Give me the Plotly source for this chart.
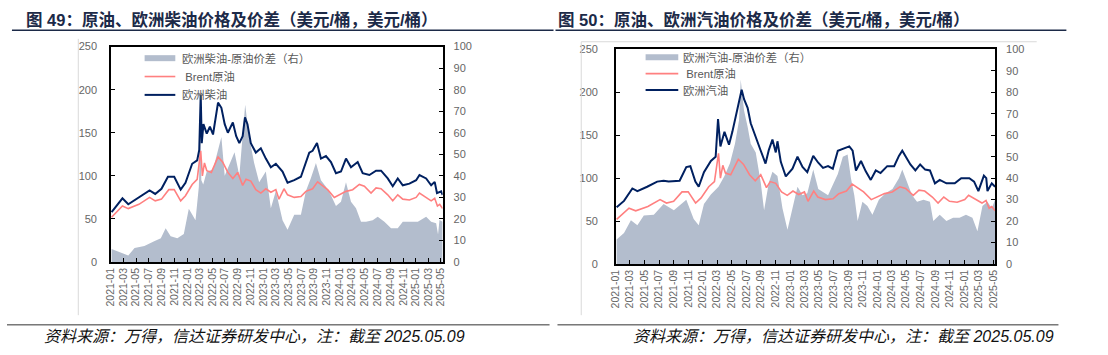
import plotly.graph_objects as go

W, H = 1108, 355

# ---------------- data ----------------
diesel_dates = ["2021-01-04","2021-02-25","2021-03-25","2021-05-15","2021-07-05","2021-08-01","2021-08-31",
    "2021-10-01","2021-10-31","2021-12-01","2021-12-24","2022-01-25","2022-02-18","2022-02-28","2022-03-07",
    "2022-03-12","2022-03-20","2022-04-05","2022-04-20","2022-05-05","2022-05-29","2022-06-14","2022-06-30",
    "2022-07-15","2022-08-08","2022-08-24","2022-09-08","2022-09-24","2022-10-05","2022-10-17","2022-11-02",
    "2022-11-26","2022-12-20","2023-01-13","2023-02-06","2023-03-02","2023-04-03","2023-04-27","2023-05-29",
    "2023-06-30","2023-07-24","2023-08-09","2023-08-25","2023-09-15","2023-10-04","2023-10-28","2023-11-21",
    "2023-12-15","2024-01-08","2024-02-01","2024-02-25","2024-03-28","2024-04-21","2024-05-23","2024-06-24",
    "2024-07-18","2024-08-19","2024-09-12","2024-10-06","2024-10-30","2024-12-01","2025-01-02","2025-01-18",
    "2025-02-19","2025-03-15","2025-04-01","2025-04-12","2025-05-02","2025-05-09"]
diesel_price = [58,74,67,75,83,79,85,99,99,84,92,114,118,130,194,138,160,149,157,148,185,179,160,150,162,146,
    138,146,168,160,138,127,132,120,110,114,105,92,95,99,116,127,129,138,120,123,116,103,105,120,110,116,103,
    101,106,106,97,88,97,89,91,95,101,97,89,93,80,82,78]

brent_dates = ["2021-01-04","2021-02-25","2021-03-25","2021-05-15","2021-07-05","2021-08-01","2021-08-31",
    "2021-10-05","2021-10-31","2021-12-01","2021-12-24","2022-01-25","2022-02-18","2022-03-07","2022-03-15",
    "2022-03-25","2022-04-05","2022-04-27","2022-05-29","2022-06-20","2022-07-15","2022-08-08","2022-08-31",
    "2022-09-24","2022-10-10","2022-11-02","2022-11-26","2022-12-20","2023-01-13","2023-02-06","2023-03-02",
    "2023-03-17","2023-04-10","2023-04-27","2023-05-29","2023-06-30","2023-07-24","2023-08-25","2023-09-18",
    "2023-10-12","2023-11-05","2023-12-07","2023-12-31","2024-02-01","2024-03-04","2024-04-05","2024-04-29",
    "2024-05-31","2024-06-24","2024-07-18","2024-08-19","2024-09-12","2024-10-06","2024-10-30","2024-12-01",
    "2025-01-02","2025-01-18","2025-02-19","2025-03-15","2025-04-01","2025-04-14","2025-04-25","2025-05-09"]
brent_price = [52,65,62,67,75,71,73,84,84,71,77,90,96,129,100,115,106,104,122,116,104,97,104,89,96,94,84,80,
    85,81,84,73,85,78,75,76,82,85,93,88,84,75,78,82,84,90,88,80,86,85,78,71,78,73,72,75,80,75,71,74,65,67,62]

diesel_spread_dates = ["2021-01-04","2021-02-01","2021-03-03","2021-03-25","2021-04-24","2021-06-10","2021-07-27",
    "2021-08-28","2021-09-20","2021-10-14","2021-11-15","2021-12-16","2022-01-09","2022-01-25","2022-02-10",
    "2022-02-26","2022-03-05","2022-03-10","2022-03-19","2022-04-05","2022-05-05","2022-05-29","2022-06-14",
    "2022-06-30","2022-07-24","2022-08-16","2022-09-08","2022-10-06","2022-10-25","2022-11-18","2022-12-12",
    "2023-01-13","2023-02-06","2023-03-02","2023-04-03","2023-04-27","2023-05-29","2023-06-30","2023-07-24",
    "2023-08-17","2023-09-10","2023-10-04","2023-10-28","2023-11-21","2023-12-15","2024-01-08","2024-02-01",
    "2024-02-25","2024-03-20","2024-04-13","2024-05-07","2024-06-08","2024-07-02","2024-08-03","2024-09-04",
    "2024-10-06","2024-10-30","2024-12-01","2025-01-10","2025-02-19","2025-03-15","2025-04-08","2025-04-17",
    "2025-04-24","2025-05-09"]
diesel_spread = [6,5,3.7,3,6.5,7.5,9.7,11,15.7,12,11,13,24.7,22,19.4,35,60,38,36,42,43,52,58,40,46,51,40,73,58,
    46,37,42,25,33,19.4,15,22,22,33,39,46,38,35,31,26,28,37,28,25,18.7,18.7,19.4,21,18.7,15.7,15.7,18.7,18.7,
    18.7,21,18.7,18,12.8,19.5,18.7]

gasoline_dates = ["2021-01-04","2021-02-04","2021-03-11","2021-04-01","2021-05-12","2021-06-23","2021-07-20",
    "2021-08-10","2021-09-25","2021-10-23","2021-11-09","2021-11-30","2021-12-14","2022-01-05","2022-02-03",
    "2022-02-23","2022-03-05","2022-03-15","2022-04-01","2022-04-20","2022-05-04","2022-05-25","2022-06-12",
    "2022-06-22","2022-07-07","2022-07-20","2022-08-10","2022-08-31","2022-09-20","2022-10-04","2022-10-19",
    "2022-11-02","2022-11-09","2022-11-23","2022-12-14","2023-01-11","2023-02-01","2023-02-22","2023-03-14",
    "2023-04-08","2023-04-29","2023-05-19","2023-06-09","2023-06-29","2023-07-20","2023-08-17","2023-09-06",
    "2023-09-20","2023-10-04","2023-10-25","2023-11-14","2023-12-05","2023-12-26","2024-01-15","2024-02-12",
    "2024-03-12","2024-04-01","2024-04-15","2024-04-29","2024-05-19","2024-06-09","2024-06-29","2024-07-20",
    "2024-08-09","2024-08-30","2024-09-19","2024-10-17","2024-11-21","2024-12-18","2025-01-21","2025-02-10",
    "2025-02-28","2025-03-23","2025-04-02","2025-04-07","2025-04-25","2025-05-09"]
gasoline_price = [66,73.5,88,85,90,96,97,96,97,113,114,96,90,107,120,125,169,137,154,139,154,179,203,192,182,
    164,149,132,117,133,145,130,143,119,102,111,125,113,107,126,118,112,114,111,132,135,137,132,109,120,108,98,
    109,106,114,114,126,132,126,116,109,116,110,109,94,98,94,94,100,100,96,85,103,100,85,94,90]

gasoline_spread_dates = ["2021-01-04","2021-02-04","2021-03-05","2021-04-01","2021-04-28","2021-06-09","2021-07-20",
    "2021-09-01","2021-10-23","2021-11-23","2021-12-14","2022-01-05","2022-02-03","2022-03-01","2022-03-07",
    "2022-04-01","2022-04-24","2022-05-15","2022-06-01","2022-06-08","2022-06-22","2022-07-07","2022-07-20",
    "2022-08-10","2022-08-31","2022-09-14","2022-10-04","2022-10-19","2022-11-09","2022-11-30","2022-12-21",
    "2023-01-11","2023-02-01","2023-02-22","2023-03-14","2023-04-08","2023-04-29","2023-06-09","2023-07-20",
    "2023-08-10","2023-08-30","2023-09-13","2023-09-27","2023-10-11","2023-10-31","2023-11-21","2023-12-12",
    "2024-01-08","2024-02-05","2024-03-05","2024-04-01","2024-04-15","2024-05-06","2024-05-26","2024-06-16",
    "2024-07-13","2024-08-09","2024-08-23","2024-09-19","2024-10-17","2024-11-14","2024-12-11","2025-01-07",
    "2025-02-03","2025-02-24","2025-03-17","2025-04-07","2025-04-25","2025-05-09"]
gasoline_spread = [11.4,14.4,20.4,18,22.6,23,28,25,30,21,18,28,32.4,35,36,41,47,56,67,86,71.5,64,56,52,38,25,
    38,43,41,26,16,26,36,32,33,44,35,32,42,50,51,40,32,20,29,27,23,30,33,35,40,44,38,32,29,30,29,20,23,20,21.5,
    21.5,23,21.5,15.3,27,29,26,30]

x_ticks_fmt = "%Y-%m"
x_range = ["2021-01-01", "2025-05-09"]
left_range, right_range = [0, 250], [0, 100]

titles = ["图 49：原油、欧洲柴油价格及价差（美元/桶，美元/桶）",
          "图 50：原油、欧洲汽油价格及价差（美元/桶，美元/桶）"]
legend_names = [["欧洲柴油-原油价差（右）", " Brent原油", "欧洲柴油"],
                ["欧洲汽油-原油价差（右）", " Brent原油", "欧洲汽油"]]
footer = "资料来源：万得，信达证券研发中心，注：截至 2025.05.09"

# ---------------- styles ----------------
AREA = "#B3BDCD"
BRENT = "#FF8080"
PROD = "#002060"
TICKC = "#666666"
FONT = "Liberation Sans, Noto Sans CJK SC, sans-serif"

def px(x): return x / W
def py(y): return 1 - y / H

fig = go.Figure()

charts = [
    dict(xa="x", ya="y", ya2="y2", spread=(diesel_spread_dates, diesel_spread), prod=(diesel_dates, diesel_price),
         dom_x=[px(105), px(440)], dom_y=[py(265), py(42)], lstand=10),
    dict(xa="x2", ya="y3", ya2="y4", spread=(gasoline_spread_dates, gasoline_spread),
         prod=(gasoline_dates, gasoline_price), dom_x=[px(615), px(998)], dom_y=[py(267), py(45)], lstand=14),
]

for i, c in enumerate(charts):
    n = legend_names[i]
    fig.add_trace(go.Scatter(x=c["spread"][0], y=c["spread"][1], mode="lines", fill="tozeroy",
                             fillcolor=AREA, line=dict(width=0, color=AREA), name=n[0],
                             xaxis=c["xa"], yaxis=c["ya"], showlegend=False))
    fig.add_trace(go.Scatter(x=brent_dates, y=brent_price, mode="lines", line=dict(color=BRENT, width=1.6),
                             name=n[1], xaxis=c["xa"], yaxis=c["ya2"], showlegend=False))
    fig.add_trace(go.Scatter(x=c["prod"][0], y=c["prod"][1], mode="lines", line=dict(color=PROD, width=2),
                             name=n[2], xaxis=c["xa"], yaxis=c["ya2"], showlegend=False))

axis_common = dict(showgrid=False, zeroline=False, showline=True, linecolor="black", linewidth=1.5,
                   ticks="inside", ticklen=4, tickcolor="black",
                   tickfont=dict(family=FONT, size=11, color=TICKC))

layout = dict(width=W, height=H, margin=dict(l=0, r=0, t=0, b=0), autosize=False,
              paper_bgcolor="white", plot_bgcolor="rgba(0,0,0,0)", showlegend=False)

for i, c in enumerate(charts):
    xk = "xaxis" if i == 0 else "xaxis2"
    yk = "yaxis" if i == 0 else "yaxis3"
    y2k = "yaxis2" if i == 0 else "yaxis4"
    layout[xk] = dict(axis_common, domain=c["dom_x"], anchor=c["ya"], type="date", range=x_range,
                      tick0="2021-01-01", dtick="M2", tickformat=x_ticks_fmt, tickangle=-90, mirror=True,
                      tickfont=dict(family=FONT, size=10.5, color=TICKC))
    layout[yk] = dict(axis_common, domain=c["dom_y"], anchor=c["xa"], side="right", range=right_range,
                      dtick=10, ticklabelstandoff=7)
    layout[y2k] = dict(axis_common, overlaying=c["ya"], anchor=c["xa"], side="left", range=left_range,
                       dtick=50, ticklabelstandoff=c["lstand"])

fig.update_layout(**layout)

shapes, annos = [], []
for tx, x0 in [(titles[0], 17), (titles[1], 555)]:
    annos.append(dict(text="<b>" + tx + "</b>", x=px(x0), y=py(14), xref="paper",
                      yref="paper", xanchor="left", yanchor="middle", showarrow=False,
                      font=dict(family=FONT, size=16.5, color="#1C2A48")))
shapes.append(dict(type="line", xref="paper", yref="paper", x0=px(5), x1=px(552), y0=py(25), y1=py(25),
                   line=dict(color="#1C2A48", width=1.5)))
shapes.append(dict(type="line", xref="paper", yref="paper", x0=px(554), x1=px(1070), y0=py(25), y1=py(25),
                   line=dict(color="#1C2A48", width=1.5)))
shapes.append(dict(type="line", xref="paper", yref="paper", x0=px(0), x1=px(548), y0=py(330), y1=py(330),
                   line=dict(color="#333333", width=1)))
shapes.append(dict(type="line", xref="paper", yref="paper", x0=px(556), x1=px(1062), y0=py(330), y1=py(330),
                   line=dict(color="#333333", width=1)))
for fx in (35, 630):
    annos.append(dict(text="<i>" + footer + "</i>", x=px(fx), y=py(342), xref="paper", yref="paper",
                      xanchor="left", yanchor="middle", showarrow=False,
                      font=dict(family=FONT, size=16, color="#111111")))
shapes.append(dict(type="line", xref="paper", yref="paper", x0=px(72), x1=px(72), y0=py(34), y1=py(320),
                   line=dict(color="#D9D9D9", width=1)))
shapes.append(dict(type="line", xref="paper", yref="paper", x0=px(580), x1=px(580), y0=py(37), y1=py(320),
                   line=dict(color="#D9D9D9", width=1)))
shapes.append(dict(type="line", xref="paper", yref="paper", x0=px(580), x1=px(1040), y0=py(37), y1=py(37),
                   line=dict(color="#D9D9D9", width=1)))
leg_pos = [dict(x0=139, x1=170, tx=175, ys=[54, 73, 92]), dict(x0=645, x1=678, tx=681, ys=[53, 70, 87])]
for i, lp in enumerate(leg_pos):
    styles = [(AREA, 6), (BRENT, 1.6), (PROD, 2)]
    for j, (col, wdt) in enumerate(styles):
        shapes.append(dict(type="line", xref="paper", yref="paper", x0=px(lp["x0"]), x1=px(lp["x1"]),
                           y0=py(lp["ys"][j]), y1=py(lp["ys"][j]), line=dict(color=col, width=wdt)))
        annos.append(dict(text=legend_names[i][j], x=px(lp["tx"]), y=py(lp["ys"][j]), xref="paper",
                          yref="paper", xanchor="left", yanchor="middle", showarrow=False,
                          font=dict(family=FONT, size=11.3, color="#595959")))

fig.update_layout(shapes=shapes, annotations=annos)
fig.write_html("out.html", config={"displayModeBar": False},
               post_script="document.body.style.margin='0';document.documentElement.style.overflow='hidden';")
